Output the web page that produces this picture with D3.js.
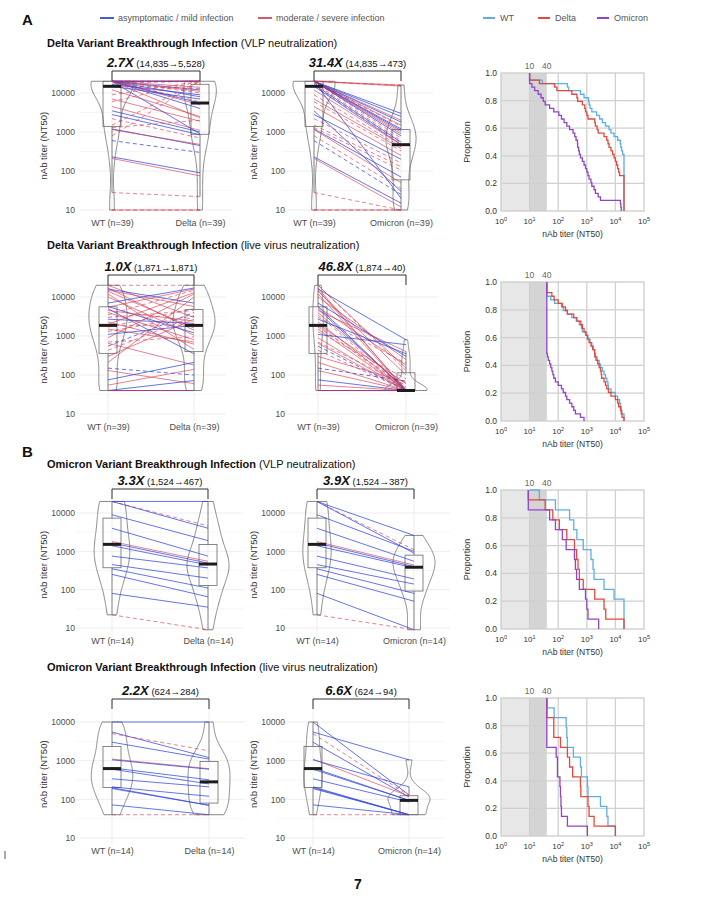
<!DOCTYPE html>
<html><head><meta charset="utf-8"><title>Breakthrough infection neutralization</title>
<script src="https://cdn.jsdelivr.net/npm/d3@7/dist/d3.min.js"></script>
<style>
html,body{margin:0;padding:0;background:#fff;}
svg{display:block;}
text{font-family:"Liberation Sans",Arial,Helvetica,sans-serif;}
</style></head>
<body><svg id="chart" width="716" height="900"></svg>
<script>
// ================= DATA =================
// A: Delta breakthrough, VLP neutralization (paired, n=39)
const aVlpWT = [20000,20000,20000,20000,20000,20000,20000,20000,20000,20000,20000,20000,20000,20000,20000,20000,18000,16500,15500,14835,12000,9000,7000,6000,4500,3500,2800,2200,1500,1300,1200,1150,800,600,230,210,28,10,10];
const aVlpDelta = [20000,20000,20000,20000,20000,14000,12000,11000,10000,8000,5528,5000,4000,2300,900,6000,20000,9000,13000,7000,2500,20000,1900,20000,1100,1000,850,700,20000,2000,450,480,20000,300,90,75,22,10,10];
const aVlpOmicron = [16000,15500,3000,2500,15000,2000,1800,1500,1400,1200,1100,1000,20,900,800,700,600,550,520,480,473,420,380,330,250,30,200,160,130,105,70,50,35,25,15,12,10,10,10];
const aVlpSevere = [1,1,0,0,1,1,0,1,1,0,0,1,0,1,0,1,1,0,1,0,1,1,1,1,1,0,0,1,1,1,0,1,1,0,0,1,1,1,1];
const aVlpDashed = [0,1,0,0,0,0,0,0,1,0,0,0,0,0,0,1,1,0,1,0,0,1,0,1,0,0,0,1,1,1,0,0,1,1,0,0,1,0,1];

// A: Delta breakthrough, live virus neutralization (paired, n=39)
const aLiveWT = [20000,20000,17000,16000,15000,14000,12000,10000,7000,5700,5500,5000,4500,4000,3500,3000,2700,2300,2000,1871,1700,1500,1300,1100,900,700,650,550,430,300,210,150,130,75,55,40,40,40,40];
const aLiveDelta = [20000,3000,1400,7000,5700,1600,450,1050,17000,1200,16000,350,2400,800,15000,4500,2100,620,13000,1900,5000,700,3300,1871,12000,950,180,4000,3200,2700,10000,100,60,210,140,72,40,40,40];
const aLiveOmicron = [130,150,40,800,42,100,40,250,300,40,180,40,400,45,40,200,350,40,60,40,50,40,80,600,40,55,40,40,40,65,40,70,40,40,40,40,40,40,40];
const aLiveSevere = [1,1,1,0,1,1,1,1,0,0,1,0,1,1,1,1,0,1,1,1,1,1,1,0,1,1,1,0,1,1,1,0,1,0,1,0,1,0,1];
const aLiveDashed = [1,0,0,0,0,0,0,0,0,0,0,0,0,0,1,1,0,0,0,1,1,0,1,0,0,1,0,1,1,0,0,1,0,0,0,0,0,0,0];

// B: Omicron breakthrough, VLP neutralization (paired, n=14)
const bVlpWT = [20000,20000,20000,9000,4000,1800,1650,1400,750,450,350,250,80,22];
const bVlpDelta = [20000,4600,4000,1900,750,550,494,440,370,200,110,65,35,9];
const bVlpOmicron = [2600,1100,900,1000,550,440,400,370,190,140,80,50,9,9];
const bVlpSevere = [0,1,0,0,0,1,0,0,0,0,0,0,0,1];
const bVlpDashed = [0,1,0,0,0,0,0,0,0,0,0,0,0,1];

// B: Omicron breakthrough, live virus neutralization (paired, n=14)
const bLiveWT = [10000,5500,5000,3000,1100,1050,650,600,340,210,200,190,72,40];
const bLiveDelta = [10000,1200,1800,1100,620,600,320,250,210,120,70,70,40,40];
const bLiveOmicron = [130,1050,125,115,120,210,94,94,85,40,40,40,40,40];
const bLiveSevere = [0,0,1,0,1,0,0,0,0,0,0,0,0,1];
const bLiveDashed = [0,0,1,0,0,0,0,0,0,0,0,0,0,1];

const limitsOfDetection = [10, 40, 10, 40];
const variantNames = ["WT", "Delta", "Omicron"];
const groupTitlesBold = ["Delta Variant Breakthrough Infection", "Delta Variant Breakthrough Infection",
                         "Omicron Variant Breakthrough Infection", "Omicron Variant Breakthrough Infection"];
const groupTitlesAssay = [" (VLP neutralization)", " (live virus neutralization)", " (VLP neutralization)", " (live virus neutralization)"];
const foldLabels = ["2.7X", "31.4X", "1.0X", "46.8X", "3.3X", "3.9X", "2.2X", "6.6X"];
const foldDetails = ["(14,835\u21925,528)", "(14,835\u2192473)", "(1,871\u21921,871)", "(1,874\u219240)",
                     "(1,524\u2192467)", "(1,524\u2192387)", "(624\u2192284)", "(624\u219294)"];
const yTicks = [10, 100, 1000, 10000];
const yMinorTicks = [31.62, 316.2, 3162];
const survXExponents = [0, 1, 2, 3, 4, 5];
const survYTicks = [0, 0.2, 0.4, 0.6, 0.8, 1.0];
const severityLegend = ["asymptomatic / mild infection", "moderate / severe infection"];
const panelLetters = ["A", "B"];

// ================= LAYOUT / STYLE =================
const FONT = '"Liberation Sans", Arial, Helvetica, sans-serif';
const C = {mild:"#2a40dc", severe:"#d5354e", legMild:"#4a5cd6", legSevere:"#d25a6e",
           WT:"#5eaee2", Delta:"#e5473d", Omicron:"#8f45c8", axis:"#4d4d4d", grid:"#ebebeb", minor:"#f4f4f4", shape:"#6a6a6a"};
const rows = [
  {titleY:47,  y10:210, y1e4:93,  brTop:71,  left:[112,200], mid:[314,401], sv:[73,211]},
  {titleY:249, y10:414, y1e4:297, brTop:275, left:[108,194], mid:[318,406], sv:[282,421]},
  {titleY:468, y10:628, y1e4:513, brTop:489, left:[112,208], mid:[317,414], sv:[490,629]},
  {titleY:671, y10:838, y1e4:722, brTop:699, left:[112,209], mid:[313,409], sv:[698,836]}
];
const groups = [
  {wt:aVlpWT,  d:aVlpDelta,  o:aVlpOmicron,  sev:aVlpSevere,  dash:aVlpDashed},
  {wt:aLiveWT, d:aLiveDelta, o:aLiveOmicron, sev:aLiveSevere, dash:aLiveDashed},
  {wt:bVlpWT,  d:bVlpDelta,  o:bVlpOmicron,  sev:bVlpSevere,  dash:bVlpDashed},
  {wt:bLiveWT, d:bLiveDelta, o:bLiveOmicron, sev:bLiveSevere, dash:bLiveDashed}
];

const svg = d3.select("#chart");

function txt(g, x, y, s, o) {
  o = o || {};
  const t = g.append("text").attr("x", x).attr("y", y).text(s)
    .attr("font-size", o.size || 9).attr("fill", o.fill || "#222")
    .attr("text-anchor", o.anchor || "start").attr("font-family", FONT);
  if (o.weight) t.attr("font-weight", o.weight);
  if (o.rotate) t.attr("transform", `rotate(-90,${x},${y})`);
  return t;
}

function kde(vals) {
  const lv = vals.map(Math.log10).sort(d3.ascending);
  const n = lv.length;
  const sd = d3.deviation(lv);
  const iqr = d3.quantileSorted(lv, .75) - d3.quantileSorted(lv, .25);
  let lo = Math.min(sd, iqr / 1.34);
  if (!(lo > 0)) lo = sd || 0.3;
  const bw = 0.9 * lo * Math.pow(n, -0.2);
  const a = lv[0], b = lv[n - 1];
  return d3.range(0, 121).map(i => {
    const p = a + (b - a) * i / 120;
    const dens = d3.mean(lv, v => Math.exp(-0.5 * ((p - v) / bw) ** 2)) / (bw * Math.sqrt(2 * Math.PI));
    return [p, dens];
  });
}

function boxStats(vals) {
  const lv = vals.map(Math.log10).sort(d3.ascending);
  const q1 = d3.quantileSorted(lv, .25), md = d3.quantileSorted(lv, .5), q3 = d3.quantileSorted(lv, .75);
  const iqr = q3 - q1;
  const lo = d3.min(lv.filter(v => v >= q1 - 1.5 * iqr));
  const hi = d3.max(lv.filter(v => v <= q3 + 1.5 * iqr));
  return {q1, md, q3, lo, hi};
}

function pairPanel(L, xs, A, B, nameA, nameB, sev, dash, fold, detail, yLabX, yTitleX) {
  const g = svg.append("g");
  const y = d3.scaleLog().domain([10, 10000]).range([L.y10, L.y1e4]);
  const labA = `${nameA} (n=${A.length})`, labB = `${nameB} (n=${B.length})`;
  const x = d3.scalePoint().domain([labA, labB]).range(xs);
  const gap = xs[1] - xs[0];
  const gx0 = xs[0] - 0.37 * gap, gx1 = xs[1] + 0.37 * gap;
  const gy0 = L.brTop - 3, gy1 = L.y10 + 7;

  yMinorTicks.forEach(t => g.append("line").attr("x1", gx0).attr("x2", gx1).attr("y1", y(t)).attr("y2", y(t))
    .attr("stroke", C.minor).attr("stroke-width", 0.8));
  yTicks.forEach(t => g.append("line").attr("x1", gx0).attr("x2", gx1).attr("y1", y(t)).attr("y2", y(t))
    .attr("stroke", C.grid).attr("stroke-width", 0.9));
  [labA, labB].forEach(c => g.append("line").attr("x1", x(c)).attr("x2", x(c)).attr("y1", gy0).attr("y2", gy1)
    .attr("stroke", C.grid).attr("stroke-width", 0.9));

  const ay = g.append("g").attr("transform", `translate(${yLabX},0)`)
    .call(d3.axisLeft(y).tickValues(yTicks).tickFormat(d => String(d)).tickSize(0).tickPadding(0));
  ay.select(".domain").remove();
  ay.attr("font-family", FONT).attr("font-size", 8.5).style("color", C.axis);

  const ax = g.append("g").attr("transform", `translate(0,${L.y10 + 10})`)
    .call(d3.axisBottom(x).tickSize(0).tickPadding(0));
  ax.select(".domain").remove();
  ax.attr("font-family", FONT).attr("font-size", 9).style("color", C.axis);

  txt(g, yTitleX, (L.y10 + y(20000)) / 2, "nAb titer (NT50)", {size: 9.5, fill: "#333", anchor: "middle", rotate: true});

  // violins (area-scaled within panel)
  const dA = kde(A), dB = kde(B);
  const k = 21 / d3.max(dA.concat(dB), d => d[1]);
  [[dA, xs[0]], [dB, xs[1]]].forEach(([d, cx]) => {
    g.append("path").datum(d)
      .attr("d", d3.area().x0(p => cx - p[1] * k).x1(p => cx + p[1] * k).y(p => y(Math.pow(10, p[0]))))
      .attr("fill", "none").attr("stroke", C.shape).attr("stroke-width", 0.8);
  });

  // boxes
  const bw = 18;
  const stats = [[boxStats(A), xs[0]], [boxStats(B), xs[1]]];
  stats.forEach(([s, cx]) => {
    const p = v => y(Math.pow(10, v));
    g.append("line").attr("x1", cx).attr("x2", cx).attr("y1", p(s.hi)).attr("y2", p(s.q3)).attr("stroke", C.shape).attr("stroke-width", 0.8);
    g.append("line").attr("x1", cx).attr("x2", cx).attr("y1", p(s.q1)).attr("y2", p(s.lo)).attr("stroke", C.shape).attr("stroke-width", 0.8);
    g.append("rect").attr("x", cx - bw / 2).attr("width", bw).attr("y", p(s.q3)).attr("height", p(s.q1) - p(s.q3))
      .attr("fill", "none").attr("stroke", C.shape).attr("stroke-width", 0.8);
  });

  // paired lines
  A.forEach((a, i) => {
    g.append("line").attr("x1", x(labA)).attr("y1", y(a)).attr("x2", x(labB)).attr("y2", y(B[i]))
      .attr("stroke", sev[i] ? C.severe : C.mild).attr("stroke-opacity", sev[i] ? 0.62 : 0.72)
      .attr("stroke-width", 1).attr("stroke-dasharray", dash[i] ? "4,3" : null);
  });

  // medians
  stats.forEach(([s, cx]) => {
    const ym = y(Math.pow(10, s.md));
    g.append("line").attr("x1", cx - bw / 2).attr("x2", cx + bw / 2).attr("y1", ym).attr("y2", ym)
      .attr("stroke", "#1c1c1c").attr("stroke-width", 3);
  });

  // bracket
  g.append("path").attr("d", `M${xs[0]},${L.brTop + 10}V${L.brTop}H${xs[1]}V${L.brTop + 10}`)
    .attr("fill", "none").attr("stroke", "#333").attr("stroke-width", 1);
  const t = g.append("text").attr("x", (xs[0] + xs[1]) / 2).attr("y", L.brTop - 4)
    .attr("text-anchor", "middle").attr("font-family", FONT).attr("fill", "#111");
  t.append("tspan").attr("font-size", 13).attr("font-weight", "bold").attr("font-style", "italic").text(fold);
  t.append("tspan").attr("font-size", 9.5).text(" " + detail);
}

function survPanel(L, series, lod) {
  const g = svg.append("g");
  const x = d3.scaleLog().domain([1, 1e5]).range([501, 644]);
  const y = d3.scaleLinear().domain([0, 1]).range([L.sv[1], L.sv[0]]);
  g.append("rect").attr("x", x(1)).attr("y", y(1)).attr("width", x(10) - x(1)).attr("height", y(0) - y(1)).attr("fill", "#e7e7e7");
  g.append("rect").attr("x", x(10)).attr("y", y(1)).attr("width", x(40) - x(10)).attr("height", y(0) - y(1)).attr("fill", "#d4d4d4");
  [10, 100, 1000, 10000].forEach(v => g.append("line").attr("x1", x(v)).attr("x2", x(v)).attr("y1", y(0)).attr("y2", y(1))
    .attr("stroke", "#d0d0d0").attr("stroke-width", 1.3));
  [0.2, 0.4, 0.6, 0.8].forEach(v => g.append("line").attr("x1", x(1)).attr("x2", x(1e5)).attr("y1", y(v)).attr("y2", y(v))
    .attr("stroke", "#d0d0d0").attr("stroke-width", 1.3));
  g.append("rect").attr("x", x(1)).attr("y", y(1)).attr("width", x(1e5) - x(1)).attr("height", y(0) - y(1))
    .attr("fill", "none").attr("stroke", "#cdcdcd").attr("stroke-width", 1.3);

  series.forEach(s => {
    const vals = s.vals.slice().sort(d3.ascending);
    const n = vals.length;
    const pts = [[Math.min(lod, vals[0]), 1]];
    Array.from(new Set(vals)).forEach(v => pts.push([v, vals.filter(u => u > v).length / n]));
    g.append("path").datum(pts)
      .attr("d", d3.line().x(p => x(p[0])).y(p => y(p[1])).curve(d3.curveStepAfter))
      .attr("fill", "none").attr("stroke", s.color).attr("stroke-width", 1.3);
  });

  survYTicks.forEach(v => txt(g, 497, y(v) + 3, d3.format(".1f")(v), {size: 8.5, fill: "#333", anchor: "end"}));
  survXExponents.forEach(e => {
    const t = g.append("text").attr("x", x(Math.pow(10, e))).attr("y", y(0) + 13).attr("text-anchor", "middle")
      .attr("font-family", FONT).attr("font-size", 8).attr("fill", "#333");
    t.append("tspan").text("10");
    t.append("tspan").attr("dy", -3.5).attr("font-size", 5.5).text(String(e));
  });
  txt(g, x(10), y(1) - 4, "10", {size: 8.5, fill: "#666", anchor: "middle"});
  txt(g, x(40), y(1) - 4, "40", {size: 8.5, fill: "#666", anchor: "middle"});
  txt(g, 470, (y(0) + y(1)) / 2, "Proportion", {size: 9, fill: "#333", anchor: "middle", rotate: true});
  txt(g, (x(1) + x(1e5)) / 2, y(0) + 26, "nAb titer (NT50)", {size: 8.5, fill: "#333", anchor: "middle"});
}

// ================= DRAW =================
const root = svg.append("g");
txt(root, 22, 25, panelLetters[0], {size: 15, weight: "bold", fill: "#111"});
txt(root, 22, 457, panelLetters[1], {size: 15, weight: "bold", fill: "#111"});

// severity legend
[[100, C.legMild, severityLegend[0]], [258, C.legSevere, severityLegend[1]]].forEach(([lx, col, s]) => {
  root.append("line").attr("x1", lx).attr("x2", lx + 14).attr("y1", 18).attr("y2", 18).attr("stroke", col).attr("stroke-width", 2);
  txt(root, lx + 18, 21, s, {size: 9, fill: "#555"});
});
// variant legend
[[483, C.WT, variantNames[0]], [538, C.Delta, variantNames[1]], [597, C.Omicron, variantNames[2]]].forEach(([lx, col, s]) => {
  root.append("line").attr("x1", lx).attr("x2", lx + 12).attr("y1", 18).attr("y2", 18).attr("stroke", col).attr("stroke-width", 2);
  txt(root, lx + 17, 21, s, {size: 9, fill: "#555"});
});

rows.forEach((L, r) => {
  const G = groups[r];
  const t = root.append("text").attr("x", 47).attr("y", L.titleY).attr("font-family", FONT).attr("font-size", 11).attr("fill", "#111");
  t.append("tspan").attr("font-weight", "bold").text(groupTitlesBold[r]);
  t.append("tspan").text(groupTitlesAssay[r]);

  pairPanel(L, L.left, G.wt, G.d, variantNames[0], variantNames[1], G.sev, G.dash, foldLabels[2 * r], foldDetails[2 * r], 75, 47);
  pairPanel(L, L.mid, G.wt, G.o, variantNames[0], variantNames[2], G.sev, G.dash, foldLabels[2 * r + 1], foldDetails[2 * r + 1], 285, 257);
  survPanel(L, [
    {vals: G.wt, color: C.WT},
    {vals: G.d, color: C.Delta},
    {vals: G.o, color: C.Omicron}
  ], limitsOfDetection[r]);
});

// page marks
root.append("line").attr("x1", 5).attr("x2", 5).attr("y1", 851).attr("y2", 859).attr("stroke", "#555").attr("stroke-width", 1);
txt(root, 358, 889, "7", {size: 14, weight: "bold", fill: "#111", anchor: "middle"});
</script>
</body></html>
